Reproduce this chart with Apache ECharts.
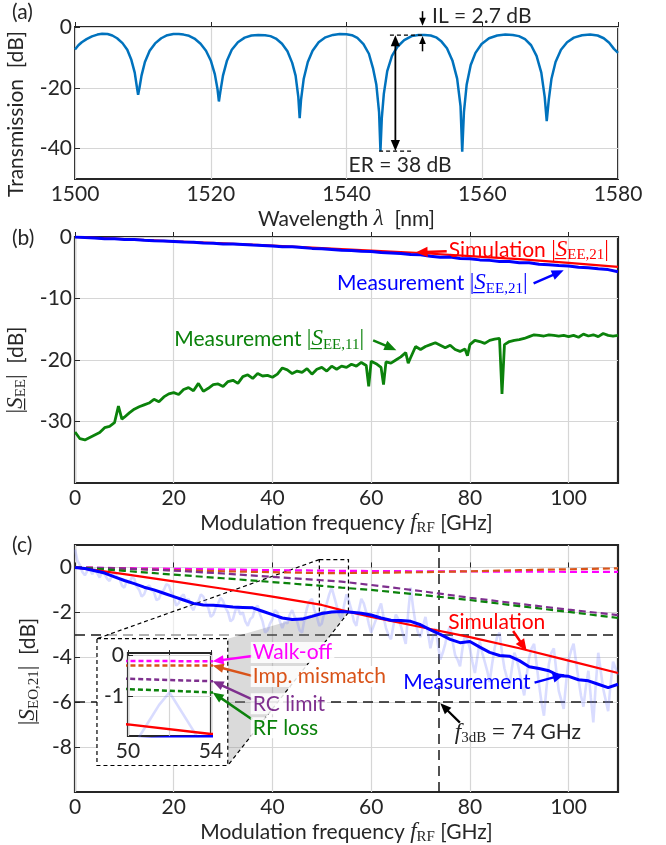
<!DOCTYPE html>
<html><head><meta charset="utf-8">
<script src="https://cdn.jsdelivr.net/npm/echarts@6/dist/echarts.min.js"></script>
<style>html,body{margin:0;padding:0;background:#fff}#c{width:666px;height:845px}</style>
</head><body><div id="c"></div>
<script>
// ---------- DATA ----------
const wavelengthTicks = [1500, 1520, 1540, 1560, 1580];
const transmissionTicks = [0, -20, -40];
const transmission = [
[1500,-7.4],[1500.5,-6.0],[1501,-5.0],[1501.7,-4.0],[1502.5,-3.1],[1503.3,-2.5],[1504,-2.2],[1504.8,-2.3],[1505.5,-2.8],[1506.2,-3.7],[1507,-5.3],[1507.7,-7.5],[1508.3,-10.8],[1508.8,-15],[1509.1,-19.5],[1509.3,-22.3],[1509.5,-20],[1509.8,-16],[1510.3,-11.5],[1511,-7.8],[1511.8,-5.4],[1512.7,-3.7],[1513.6,-2.7],[1514.5,-2.3],[1515.3,-2.3],[1516,-2.5],[1516.8,-2.9],[1517.6,-3.8],[1518.5,-5.5],[1519.3,-7.8],[1520,-11],[1520.6,-15.5],[1521,-20.5],[1521.2,-24.5],[1521.4,-21.5],[1521.8,-16],[1522.4,-11],[1523.1,-7.5],[1524,-5],[1525,-3.5],[1526,-2.8],[1527,-2.6],[1528,-2.7],[1528.8,-3],[1529.6,-3.8],[1530.5,-5.5],[1531.3,-8],[1532,-11.8],[1532.5,-16],[1532.9,-23],[1533.1,-30],[1533.3,-24],[1533.7,-17],[1534.3,-11.5],[1535,-7.8],[1535.9,-5],[1536.9,-3.4],[1538,-2.6],[1539,-2.3],[1540,-2.4],[1540.8,-2.7],[1541.6,-3.6],[1542.5,-5.6],[1543.3,-8.8],[1543.9,-13.5],[1544.4,-19],[1544.8,-28],[1545,-40.8],[1545.2,-30],[1545.5,-22],[1546,-14.5],[1546.7,-9.5],[1547.5,-6.5],[1548.5,-4.3],[1549.6,-3],[1550.6,-2.6],[1551.5,-2.6],[1552.4,-2.8],[1553.2,-3.4],[1554,-4.8],[1554.8,-7],[1555.6,-11],[1556.3,-17],[1556.8,-26],[1557.05,-41],[1557.3,-28],[1557.7,-19],[1558.3,-12.5],[1559,-8.5],[1559.9,-5.6],[1561,-3.7],[1562.2,-2.8],[1563.4,-2.5],[1564.5,-2.6],[1565.4,-3],[1566.3,-4],[1567.2,-6],[1568,-9.5],[1568.7,-15],[1569.2,-23],[1569.5,-31],[1569.8,-24],[1570.2,-17],[1570.8,-11.5],[1571.6,-7.5],[1572.5,-5],[1573.5,-3.5],[1574.7,-2.7],[1575.9,-2.5],[1577,-2.8],[1577.9,-3.7],[1578.7,-5.2],[1579.4,-7.2],[1580,-8.5]];
const ilLevel = -2.7, erLevel = -40.8;

const freqTicks = [0, 20, 40, 60, 80, 100];
const seeTicks = [0, -10, -20, -30];
const simS21 = [[0,0],[10,-0.35],[20,-0.7],[30,-1.05],[40,-1.4],[50,-1.8],[60,-2.2],[70,-2.6],[80,-3.1],[90,-3.6],[100,-4.2],[110,-4.85]];
const measS21 = [[0,0],[2,-0.1],[4,-0.15],[6,-0.27],[8,-0.3],[10,-0.4],[12,-0.42],[14,-0.52],[16,-0.6],[18,-0.66],[20,-0.72],[22,-0.82],[24,-0.85],[26,-0.97],[28,-1.0],[30,-1.12],[32,-1.15],[34,-1.22],[36,-1.3],[38,-1.37],[40,-1.45],[42,-1.57],[44,-1.6],[46,-1.72],[48,-1.85],[50,-1.9],[52,-2.02],[54,-2.15],[56,-2.2],[58,-2.33],[60,-2.35],[62,-2.52],[64,-2.6],[66,-2.68],[68,-2.85],[70,-2.9],[72,-3.12],[74,-3.3],[76,-3.25],[78,-3.5],[80,-3.55],[82,-3.72],[84,-3.8],[86,-3.97],[88,-4.0],[90,-4.17],[92,-4.2],[94,-4.42],[96,-4.5],[98,-4.62],[100,-4.7],[102,-4.92],[104,-5.0],[106,-5.17],[108,-5.3],[110,-5.65]];
const measS11 = [[0,-31.7],[1,-32.8],[2,-33.0],[3,-32.6],[4,-32.2],[5,-31.8],[6,-31.0],[7,-30.8],[8,-30.2],[8.8,-27.5],[9.5,-29.6],[10,-29.3],[11,-28.6],[12,-28.0],[13,-27.6],[14,-27.3],[15,-27.0],[16,-26.4],[17,-26.8],[18,-26.0],[19,-25.5],[20,-25.3],[21,-25.6],[22,-24.8],[23,-24.5],[24,-25.0],[25,-23.8],[26,-25.1],[27,-24.6],[28,-24.0],[29,-23.9],[30,-24.3],[31,-23.5],[32,-23.3],[33,-23.8],[34,-22.7],[35,-22.4],[36,-23.0],[37,-22.2],[38,-22.6],[39,-22.5],[40,-22.8],[41,-22.3],[42,-21.3],[43,-21.6],[44,-22.2],[45,-21.8],[46,-22.0],[47,-21.4],[48,-22.3],[49,-21.5],[50,-21.2],[51,-21.8],[52,-21.0],[53,-21.5],[54,-21.0],[55,-21.2],[56,-20.7],[57,-21.0],[58,-20.4],[59,-20.9],[59.5,-24.3],[60,-20.2],[61,-20.6],[62,-21.2],[62.5,-24.0],[63,-20.3],[64,-20.5],[65,-20.0],[66,-19.5],[67,-18.8],[67.5,-20.5],[68,-19.6],[69,-17.8],[70,-18.3],[71,-17.8],[72,-17.5],[73,-17.2],[74,-17.6],[75,-18.0],[76,-17.6],[77,-18.3],[78,-18.6],[79,-18.2],[79.5,-19.3],[80,-17.5],[81,-16.8],[82,-17.0],[83,-17.3],[84,-16.8],[85,-16.6],[86,-16.5],[86.5,-25.5],[87,-17.5],[88,-17.0],[89,-16.8],[90,-16.7],[91,-16.5],[92,-16.2],[93,-15.9],[94,-16.0],[95,-16.1],[96,-15.9],[97,-16.0],[98,-16.1],[99,-16.0],[100,-16.2],[101,-16.0],[102,-16.3],[103,-15.8],[104,-16.1],[105,-15.9],[106,-16.2],[107,-15.7],[108,-16.0],[109,-16.1],[110,-16.0]];

const seoTicks = [0, -2, -4, -6, -8];
const simEO = [[0,0],[10,-0.3],[20,-0.62],[30,-0.95],[40,-1.3],[50,-1.67],[54,-1.9],[60,-2.2],[70,-2.65],[80,-3.1],[90,-3.6],[100,-4.15],[110,-4.7]];
const walkOff = [[0,0],[10,-0.03],[20,-0.06],[30,-0.09],[40,-0.12],[50,-0.14],[54,-0.15],[60,-0.16],[80,-0.18],[110,-0.2]];
const impMismatch = [[0,0],[10,-0.06],[20,-0.12],[30,-0.17],[40,-0.21],[50,-0.25],[54,-0.25],[60,-0.24],[70,-0.21],[80,-0.17],[90,-0.12],[100,-0.08],[110,-0.04]];
const rcLimit = [[0,0],[10,-0.05],[20,-0.14],[30,-0.27],[40,-0.42],[50,-0.57],[54,-0.63],[60,-0.78],[70,-1.05],[80,-1.35],[90,-1.62],[100,-1.88],[110,-2.12]];
const rfLoss = [[0,0],[10,-0.15],[20,-0.32],[30,-0.48],[40,-0.65],[50,-0.82],[54,-0.9],[60,-1.0],[70,-1.22],[80,-1.45],[90,-1.72],[100,-1.98],[110,-2.25]];
const measEO = [[0,0],[2,-0.05],[4,-0.15],[6,-0.25],[8,-0.42],[10,-0.58],[12,-0.72],[14,-0.88],[16,-1.0],[18,-1.15],[20,-1.3],[22,-1.45],[24,-1.6],[26,-1.67],[28,-1.68],[30,-1.72],[32,-1.76],[34,-1.78],[36,-1.8],[38,-1.95],[40,-2.1],[42,-2.25],[44,-2.32],[46,-2.3],[48,-2.18],[50,-2.05],[52,-1.98],[54,-1.96],[56,-2.0],[58,-2.04],[60,-2.12],[62,-2.25],[64,-2.35],[66,-2.36],[68,-2.4],[70,-2.55],[72,-2.78],[74,-2.98],[76,-3.2],[78,-3.35],[80,-3.3],[82,-3.55],[84,-3.78],[86,-3.92],[88,-3.95],[90,-4.15],[92,-4.42],[94,-4.5],[96,-4.6],[98,-4.82],[100,-4.85],[102,-5.0],[104,-5.05],[106,-5.2],[108,-5.35],[110,-5.2]];
const rawEO = [[0,0.8],[0.5,0.3],[1,0.1],[1.5,-0.2],[2,-0.35],[2.5,-0.15],[3,-0.1],[3.5,-0.3],[4,-0.05],[4.5,-0.25],[5,-0.45],[5.5,-0.2],[6,-0.3],[6.5,-0.5],[7,-0.6],[7.5,-0.35],[8,-0.2],[8.5,-0.45],[9,-0.5],[9.5,-0.8],[10,-0.9],[10.5,-0.6],[11,-0.7],[11.5,-0.45],[12,-0.5],[12.5,-0.85],[13,-1.0],[13.5,-1.3],[14,-1.2],[14.5,-0.9],[15,-0.8],[15.5,-1.0],[16,-1.1],[16.5,-1.45],[17,-1.4],[17.5,-1.1],[18,-1.0],[18.5,-0.75],[19,-0.8],[19.5,-1.1],[20,-1.3],[20.5,-1.7],[21,-1.6],[21.5,-1.3],[22,-1.2],[22.5,-1.5],[23,-1.4],[23.5,-1.75],[24,-1.9],[24.5,-1.6],[25,-1.5],[25.5,-1.2],[26,-1.3],[26.5,-1.6],[27,-1.8],[27.5,-2.2],[28,-2.1],[28.5,-1.8],[29,-1.6],[29.5,-1.35],[30,-1.5],[30.5,-1.8],[31,-2.0],[31.5,-2.4],[32,-2.3],[32.5,-1.9],[33,-1.8],[33.5,-2.1],[34,-2.0],[34.5,-2.4],[35,-2.6],[35.5,-2.3],[36,-2.2],[36.5,-1.8],[37,-1.7],[37.5,-2.1],[38,-2.4],[38.5,-2.9],[39,-2.8],[39.5,-2.5],[40,-2.3],[40.5,-1.9],[41,-2.0],[41.5,-2.4],[42,-2.7],[42.5,-2.4],[43,-2.5],[43.5,-2.1],[44,-1.9],[44.5,-2.2],[45,-2.4],[45.5,-2.8],[46,-2.9],[46.5,-2.3],[47,-1.8],[47.5,-1.5],[48,-1.4],[48.5,-1.9],[49,-2.2],[49.5,-2.6],[50,-2.5],[50.5,-2.0],[51,-1.6],[51.5,-1.2],[52,-0.9],[52.5,-1.3],[53,-1.7],[53.5,-2.1],[54,-2.3],[54.5,-1.7],[55,-1.2],[55.5,-1.5],[56,-1.9],[56.5,-2.4],[57,-2.6],[57.5,-1.9],[58,-1.4],[58.5,-1.6],[59,-2.0],[59.5,-2.5],[60,-2.9],[60.5,-2.6],[61,-2.3],[61.5,-1.9],[62,-1.6],[62.5,-2.2],[63,-2.7],[63.5,-3.0],[64,-3.2],[64.5,-2.6],[65,-2.1],[65.5,-2.3],[66,-2.6],[66.5,-3.0],[67,-3.4],[67.5,-2.0],[68,-0.9],[68.5,-1.8],[69,-2.5],[69.5,-2.9],[70,-3.1],[70.5,-2.6],[71,-2.2],[71.5,-2.9],[72,-3.6],[72.5,-3.1],[73,-2.7],[73.5,-3.4],[74,-4.1],[74.5,-3.8],[75,-3.4],[75.5,-2.9],[76,-2.6],[76.5,-3.3],[77,-3.9],[77.5,-4.1],[78,-4.4],[78.5,-3.6],[79,-3.0],[79.5,-3.2],[80,-3.6],[80.5,-4.2],[81,-4.7],[81.5,-4.0],[82,-3.3],[82.5,-3.8],[83,-4.2],[83.5,-4.6],[84,-5.1],[84.5,-4.3],[85,-3.6],[85.5,-3.1],[86,-2.9],[86.5,-3.8],[87,-4.5],[87.5,-4.9],[88,-5.3],[88.5,-4.5],[89,-3.8],[89.5,-4.1],[90,-4.6],[90.5,-5.2],[91,-5.7],[91.5,-4.8],[92,-4.0],[92.5,-3.6],[93,-3.4],[93.5,-4.3],[94,-5.2],[94.5,-6.0],[95,-6.6],[95.5,-5.4],[96,-4.3],[96.5,-3.8],[97,-3.6],[97.5,-4.6],[98,-5.5],[98.5,-5.9],[99,-6.3],[99.5,-5.1],[100,-4.1],[100.5,-3.7],[101,-3.4],[101.5,-4.2],[102,-5.0],[102.5,-5.7],[103,-6.2],[103.5,-5.3],[104,-4.6],[104.5,-5.8],[105,-6.9],[105.5,-5.2],[106,-3.8],[106.5,-4.6],[107,-5.4],[107.5,-5.9],[108,-6.4],[108.5,-5.2],[109,-4.2],[109.5,-4.5],[110,-4.8]];
const f3dB = 73.6;
const level3dB = -3, level6dB = -6;
const insetXTicks = [50, 52, 54], insetXLabels = [50, 54], insetYTicks = [0, -1];
const zoomBox = {f0: 49.5, f1: 55.4, y0: -2.0, y1: 0.35};

// ---------- STYLE ----------
const FONT = 'Lato', SERIF = 'Liberation Serif', DARK = '#262626', GRIDC = '#d6d6d6';
const FS = 21;
const C_A = '#0072bd', RED = '#ff0000', BLUE = '#0000ff', GREEN = '#0b820b', MAG = '#ff00ff', ORG = '#d95319', PUR = '#7e2f8e';
const RAW = 'rgba(120,130,255,0.28)';

const richBase = {
  t: {fontFamily: FONT, fontSize: FS, lineHeight: 26, color: DARK},
  it: {fontFamily: SERIF, fontSize: 23, fontStyle: 'italic', lineHeight: 26, color: DARK},
  b: {fontFamily: SERIF, fontSize: 23, lineHeight: 26, color: DARK},
  sub: {fontFamily: SERIF, fontSize: 15, lineHeight: 14, verticalAlign: 'bottom', color: DARK}
};

function xAx(g, min, max, ticks, labels, name, gap, extra) {
  return Object.assign({
    type: 'value', gridIndex: g, min, max,
    axisLine: {show: false},
    axisTick: {show: true, inside: true, length: 5, customValues: ticks, lineStyle: {color: DARK, width: 1}},
    axisLabel: {customValues: labels, color: DARK, fontFamily: FONT, fontSize: FS, margin: 5, formatter: v => String(v)},
    splitLine: {show: true, lineStyle: {color: GRIDC, width: 1.2}},
    name, nameLocation: 'middle', nameGap: gap,
    nameTextStyle: {fontFamily: FONT, fontSize: FS, lineHeight: 26, color: DARK, rich: richBase}
  }, extra || {});
}
function yAx(g, min, max, ticks, labels, name, gap, shift, extra) {
  return Object.assign({
    type: 'value', gridIndex: g, min, max,
    axisLine: {show: false},
    axisTick: {show: true, inside: true, length: 5, customValues: ticks, lineStyle: {color: DARK, width: 1}},
    axisLabel: {customValues: labels, color: DARK, fontFamily: FONT, fontSize: FS, margin: 3, formatter: v => String(v)},
    splitLine: {show: true, lineStyle: {color: GRIDC, width: 1.2}},
    name, nameLocation: 'middle', nameGap: gap,
    nameTextStyle: {fontFamily: FONT, fontSize: FS, lineHeight: 26, color: DARK, rich: richBase, padding: [0, shift || 0, 0, 0]}
  }, extra || {});
}
function line(xi, data, color, width, type, extra) {
  return Object.assign({type: 'line', xAxisIndex: xi, yAxisIndex: xi, data, symbol: 'none', showSymbol: false,
    lineStyle: {color, width, type: type || 'solid'}, silent: true, animation: false, clip: true}, extra || {});
}

const chart = echarts.init(document.getElementById('c'), null, {renderer: 'canvas'});
const gridBase = {show: true, borderColor: DARK, borderWidth: 2.2, backgroundColor: 'transparent', containLabel: false, outerBoundsMode: 'none'};
const option = {
  animation: false,
  backgroundColor: '#fff',
  grid: [
    Object.assign({}, gridBase, {left: 75, top: 27, width: 543, height: 152, borderWidth: 2}),
    Object.assign({}, gridBase, {left: 75, top: 237, width: 543, height: 246}),
    Object.assign({}, gridBase, {left: 75, top: 545, width: 543, height: 247}),
    Object.assign({}, gridBase, {left: 128, top: 653, width: 83, height: 83, backgroundColor: '#fff', z: 5})
  ],
  xAxis: [
    xAx(0, 1500, 1580, wavelengthTicks, wavelengthTicks, 'Wavelength {it|λ}  [nm]', 20),
    xAx(1, 0, 110, freqTicks, freqTicks, 'Modulation frequency {it|f}{sub|RF} [GHz]', 18),
    xAx(2, 0, 110, freqTicks, freqTicks, 'Modulation frequency {it|f}{sub|RF} [GHz]', 18),
    xAx(3, 50, 54, insetXTicks, insetXLabels, '', 0, {z: 6, axisLabel: {customValues: insetXLabels, color: DARK, fontFamily: FONT, fontSize: FS, margin: 5, formatter: v => String(v)}})
  ],
  yAxis: [
    yAx(0, -50, 0, transmissionTicks, transmissionTicks, 'Transmission  [dB]', 31, 22),
    yAx(1, -40, 0, seeTicks, seeTicks, '{b||}{it|S\u0332}{sub|EE}{b||}{t|  [dB]}', 31, 20),
    yAx(2, -10, 1, seoTicks, seoTicks, '{b||}{it|S\u0332}{sub|EO,21}{b||}{t|  [dB]}', 31, 6),
    yAx(3, -1.95, 0.05, insetYTicks, insetYTicks, '', 0, 0, {z: 6, axisLabel: {customValues: insetYTicks, color: DARK, fontFamily: FONT, fontSize: FS, margin: 4, formatter: v => String(v)}})
  ],
  series: [
    line(0, transmission, C_A, 2.5),
    line(1, measS11, GREEN, 2.8),
    line(1, simS21, RED, 2.2),
    line(1, measS21, BLUE, 3),
    line(2, rawEO, RAW, 2.6),
    line(2, walkOff, MAG, 2.2, [7, 4]),
    line(2, impMismatch, ORG, 2.2, [7, 4]),
    line(2, rcLimit, PUR, 2.2, [7, 4]),
    line(2, rfLoss, GREEN, 2.2, [7, 4]),
    line(2, simEO, RED, 2.2),
    line(2, measEO, BLUE, 3, 'solid', {
      markLine: {silent: true, symbol: 'none', z: 2, label: {show: false}, animation: false,
        lineStyle: {color: '#1a1a1a', width: 1.5, type: [10, 6]},
        data: [{yAxis: level3dB}, {yAxis: level6dB}, {xAxis: f3dB}]}
    }),
    line(3, rawEO, RAW, 2.6, 'solid', {z: 7}),
    line(3, walkOff, MAG, 2.5, [5, 3], {z: 7}),
    line(3, impMismatch, ORG, 2.5, [5, 3], {z: 7}),
    line(3, rcLimit, PUR, 2.5, [5, 3], {z: 7}),
    line(3, rfLoss, GREEN, 2.5, [5, 3], {z: 7}),
    line(3, simEO, RED, 2.5, 'solid', {z: 7}),
    line(3, measEO, BLUE, 3, 'solid', {z: 7})
  ]
};
chart.setOption(option);

// ---------- ANNOTATIONS (positions from data coordinates) ----------
const P = (g, x, y) => chart.convertToPixel({gridIndex: g}, [x, y]);
const valAt = (arr, x) => { for (const p of arr) if (p[0] === x) return p[1]; return 0; };
const els = [];
function seg(a, b, color, w, dash, z) {
  els.push({type: 'line', z: z || 10, silent: true, shape: {x1: a[0], y1: a[1], x2: b[0], y2: b[1]},
    style: {stroke: color, lineWidth: w, lineDash: dash || null}});
}
function arrow(p0, p1, color, w, head, both, z) {
  z = z || 10; head = head || 11;
  const dx = p1[0] - p0[0], dy = p1[1] - p0[1], L = Math.hypot(dx, dy), ux = dx / L, uy = dy / L, hw = head * 0.42;
  const hd = (tip, ux, uy) => {
    const bx = tip[0] - ux * head, by = tip[1] - uy * head;
    els.push({type: 'polygon', z, silent: true, shape: {points: [tip, [bx - uy * hw, by + ux * hw], [bx + uy * hw, by - ux * hw]]}, style: {fill: color}});
  };
  const s = both ? [p0[0] + ux * head * 0.8, p0[1] + uy * head * 0.8] : p0;
  const e = [p1[0] - ux * head * 0.8, p1[1] - uy * head * 0.8];
  seg(s, e, color, w, null, z);
  hd(p1, ux, uy); if (both) hd(p0, -ux, -uy);
}
function txt(p, text, color, extra) {
  els.push(Object.assign({type: 'text', z: 11, silent: true, x: p[0], y: p[1],
    style: Object.assign({text, fill: color, fontFamily: FONT, fontSize: FS, align: 'left', verticalAlign: 'middle',
      rich: {
        t: {fontFamily: FONT, fontSize: FS, lineHeight: 26},
        it: {fontFamily: SERIF, fontSize: 23, fontStyle: 'italic', lineHeight: 26},
        b: {fontFamily: SERIF, fontSize: 23, lineHeight: 26},
        sub: {fontFamily: SERIF, fontSize: 15, lineHeight: 14, verticalAlign: 'bottom'},
        eq: {fontFamily: SERIF, fontSize: 23, lineHeight: 26}
      }}, extra || {})}));
}
// panel letters
txt([12, 12], '(a)', DARK); txt([12, 238], '(b)', DARK); txt([12, 545], '(c)', DARK);

// (a)
seg(P(0, 1546.4, ilLevel), P(0, 1551.4, ilLevel), '#000', 1.2, [4, 3]);
seg(P(0, 1544.8, erLevel), P(0, 1549.8, erLevel), '#000', 1.2, [4, 3]);
arrow(P(0, 1547.2, ilLevel), P(0, 1547.2, erLevel), '#000', 1.8, 11, true);
arrow(P(0, 1551.2, 5.2), P(0, 1551.2, 0.4), '#000', 1.5, 8);
arrow(P(0, 1551.2, -8), P(0, 1551.2, ilLevel - 0.3), '#000', 1.5, 8);
txt(P(0, 1552.6, 3.5), 'IL = 2.7 dB', DARK);
txt(P(0, 1540.3, -45.4), 'ER = 38 dB', DARK);

// (b)
txt(P(1, 75.7, -2.1), '{t|Simulation }{b||}{it|S\u0332}{sub|EE,21}{b||}', RED);
arrow(P(1, 75.3, -2.3), P(1, 69.0, -2.5), RED, 2.5, 12);
txt(P(1, 53.1, -7.54), '{t|Measurement }{b||}{it|S\u0332}{sub|EE,21}{b||}', BLUE);
arrow(P(1, 92.9, -7.54), P(1, 99.0, -5.4), BLUE, 2.5, 12);
txt(P(1, 20.1, -16.65), '{t|Measurement }{b||}{it|S\u0332}{sub|EE,11}{b||}', GREEN);
arrow(P(1, 60.4, -16.8), P(1, 65.1, -18.4), GREEN, 2.5, 12);

// (c) zoom projection
const rTL = P(2, zoomBox.f0, zoomBox.y1), rBL = P(2, zoomBox.f0, zoomBox.y0), rBR = P(2, zoomBox.f1, zoomBox.y0);
const bTL = P(2, 4.45, -3.17), bTR = P(2, 30.95, -3.17), bBR = P(2, 30.95, -8.82);
els.push({type: 'polygon', z: 3, silent: true, shape: {points: [bTL, rTL, rBL, bTR]}, style: {fill: 'rgba(255,255,255,0.55)'}});
els.push({type: 'polygon', z: 3, silent: true, shape: {points: [rBL, rBR, bBR, bTR]}, style: {fill: 'rgba(150,150,150,0.35)'}});
els.push({type: 'rect', z: 3, silent: true, shape: {x: rTL[0], y: rTL[1], width: rBR[0] - rTL[0], height: rBR[1] - rTL[1]}, style: {fill: 'none', stroke: '#000', lineWidth: 1.2, lineDash: [4, 3]}});
seg(rTL, bTL, '#000', 1.2, [4, 3], 3);
seg(rBR, bBR, '#000', 1.2, [4, 3], 3);
els.push({type: 'rect', z: 4, silent: true, shape: {x: bTL[0], y: bTL[1], width: bBR[0] - bTL[0], height: bBR[1] - bTL[1]}, style: {fill: '#fff', stroke: '#000', lineWidth: 1.2, lineDash: [4, 3]}});

// (c) labels
txt(P(2, 75.6, -2.43), 'Simulation', RED);
arrow(P(2, 88.75, -2.83), P(2, 91.5, -3.72), RED, 2.5, 12);
txt(P(2, 66.5, -5.13), 'Measurement', BLUE);
arrow(P(2, 93.1, -5.13), P(2, 99.2, -4.76), BLUE, 2.5, 12);
txt(P(2, 76.95, -7.36), '{it|f}{sub|3dB}{eq| = }{t|74 GHz}', DARK);
arrow(P(2, 77.97, -6.91), P(2, f3dB + 0.4, level6dB - 0.05), '#000', 2.2, 11);

const lblBg = {backgroundColor: 'rgba(255,255,255,0.85)', padding: [0, 2]};
const insetLabels = [
  ['Walk-off', MAG, walkOff, -3.79, -3.94],
  ['Imp. mismatch', ORG, impMismatch, -4.86, -4.83],
  ['RC limit', PUR, rcLimit, -6.07, -5.87],
  ['RF loss', GREEN, rfLoss, -7.14, -6.77]
];
insetLabels.forEach(([t, col, arr, ty, ay]) => {
  txt(P(2, 35.6, ty), t, col, lblBg);
  arrow(P(2, 35.9, ay), P(3, 54.08, valAt(arr, 54)), col, 2.5, 11);
});

chart.setOption({graphic: {elements: els}});
</script></body></html>
